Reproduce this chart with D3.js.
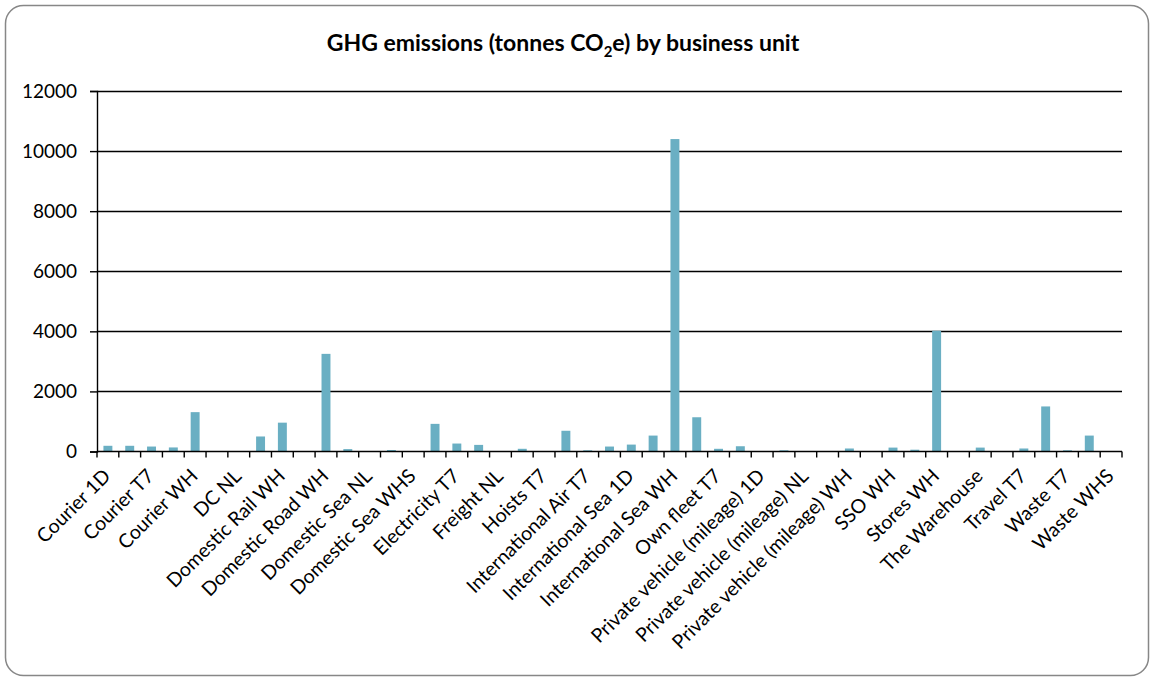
<!DOCTYPE html>
<html>
<head>
<meta charset="utf-8">
<script src="https://cdn.jsdelivr.net/npm/d3@7"></script>
<style>
  html, body { margin: 0; padding: 0; background: #fff; }
  svg { display: block; }
  text { font-family: Lato, "Open Sans", sans-serif; fill: #000; }
</style>
</head>
<body>
<svg id="chart" width="1150" height="677"></svg>
<script>
// Business units, in the sorted order used on the category axis
const categories = [
  "Courier 1D", "Courier NL", "Courier T7", "Courier TW", "Courier WH",
  "Courier WHS", "DC NL", "DC WH", "Domestic Rail WH", "Domestic Road NL",
  "Domestic Road WH", "Domestic Road WHS", "Domestic Sea NL", "Domestic Sea WH",
  "Domestic Sea WHS", "Electricity NL", "Electricity T7", "Electricity WH",
  "Freight NL", "Freight WH", "Hoists T7", "International Air NL",
  "International Air T7", "International Air WH", "International Sea 1D",
  "International Sea NL", "International Sea WH", "Own fleet NL", "Own fleet T7",
  "Own fleet WH", "Private vehicle (mileage) 1D", "Private vehicle (mileage) DC",
  "Private vehicle (mileage) NL", "Private vehicle (mileage) T7",
  "Private vehicle (mileage) WH", "SSO NL", "SSO WH", "Stores NL", "Stores WH",
  "Stores WHS", "The Warehouse", "Travel NL", "Travel T7", "Travel WH",
  "Waste T7", "Waste WH", "Waste WHS"
];

// Emissions in tonnes CO2e, one per business unit
const emissions = [
  190, 190, 165, 135, 1310,
  0, 0, 500, 960, 0,
  3250, 80, 0, 50,
  0, 920, 265, 220,
  0, 90, 0, 690,
  40, 165, 230,
  530, 10400, 1140, 90,
  175, 0, 40,
  0, 0,
  100, 0, 130, 60, 4020,
  0, 130, 0, 100, 1500,
  40, 530, 0
];

// Value axis ticks
const yTicks = [0, 2000, 4000, 6000, 8000, 10000, 12000];

const svg = d3.select("#chart");
const W = 1150, H = 677;
const plot = { left: 97, right: 1122, top: 91, bottom: 451.5 };

// Outer chart frame
svg.append("rect")
  .attr("x", 5.5).attr("y", 5.5)
  .attr("width", W - 7).attr("height", H - 7)
  .attr("rx", 18).attr("ry", 18)
  .attr("fill", "#fff")
  .attr("stroke", "#878787")
  .attr("stroke-width", 1.5);

// Title with subscript 2
const title = svg.append("text")
  .attr("x", 563).attr("y", 51)
  .attr("text-anchor", "middle")
  .attr("font-size", 23)
  .attr("font-weight", "bold");
title.append("tspan").text("GHG emissions (tonnes CO");
title.append("tspan").attr("font-size", 15).attr("dy", 6).text("2");
title.append("tspan").attr("dy", -6).text("e) by business unit");

const y = d3.scaleLinear().domain([0, 12000]).range([plot.bottom, plot.top]);

// Category slots (boundaries for tick marks) and bar positions inside them
const slot = d3.scaleBand().domain(categories).range([plot.left, plot.right]).padding(0);
const x = d3.scaleBand().domain(categories).range([plot.left, plot.right])
  .paddingInner(0.59).paddingOuter(0.295);

// Horizontal gridlines
svg.append("g")
  .selectAll("line")
  .data(yTicks.filter(d => d > 0))
  .join("line")
  .attr("x1", plot.left).attr("x2", plot.right)
  .attr("y1", d => Math.round(y(d)) + 0.5).attr("y2", d => Math.round(y(d)) + 0.5)
  .attr("stroke", "#000").attr("stroke-width", 1.4);

// Bars
svg.append("g")
  .selectAll("rect")
  .data(categories.map((c, i) => ({ c, v: emissions[i] })))
  .join("rect")
  .attr("x", d => x(d.c))
  .attr("width", x.bandwidth())
  .attr("y", d => y(d.v))
  .attr("height", d => plot.bottom - y(d.v))
  .attr("fill", "#6aafc3");

// Value axis
const yAxis = svg.append("g")
  .attr("transform", `translate(${plot.left},0)`)
  .call(d3.axisLeft(y).tickValues(yTicks).tickSize(7).tickPadding(13).tickFormat(d3.format("d")));
yAxis.select(".domain").attr("stroke", "#000").attr("stroke-width", 1.4);
yAxis.selectAll(".tick line").attr("stroke", "#000").attr("stroke-width", 1.4);
yAxis.selectAll(".tick text")
  .attr("font-size", 19)
  .attr("font-family", "Lato, 'Open Sans', sans-serif")
  .attr("fill", "#000");

// Category axis: baseline and tick marks at slot boundaries
const xg = svg.append("g");
xg.append("line")
  .attr("x1", plot.left).attr("x2", plot.right)
  .attr("y1", plot.bottom).attr("y2", plot.bottom)
  .attr("stroke", "#000").attr("stroke-width", 1.6);
const bounds = categories.map(c => slot(c)).concat([plot.right]);
xg.selectAll("line.tk")
  .data(bounds)
  .join("line")
  .attr("class", "tk")
  .attr("x1", d => d).attr("x2", d => d)
  .attr("y1", plot.bottom).attr("y2", plot.bottom + 6)
  .attr("stroke", "#000").attr("stroke-width", 1.4);

// Every other category name, rotated
xg.selectAll("text")
  .data(categories.filter((c, i) => i % 2 === 0))
  .join("text")
  .attr("transform", c => `translate(${slot(c) + slot.bandwidth() / 2 - 1},${plot.bottom + 21}) rotate(-45)`)
  .attr("text-anchor", "end")
  .attr("dy", "0.35em")
  .attr("font-size", 19.5)
  .text(c => c);
</script>
</body>
</html>
